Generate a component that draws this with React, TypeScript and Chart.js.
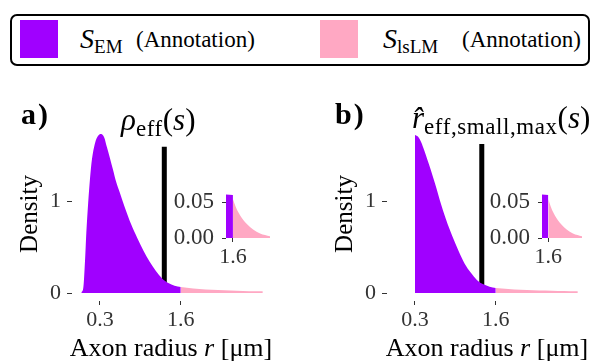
import React, { useEffect, useRef } from "react";
import { Chart, registerables } from "chart.js";

Chart.register(...registerables);

const FONT = "'Liberation Serif', 'DejaVu Serif', serif";
const PURPLE = "#A000FF";
const PINK = "#FFA8C3";
const TICK_COLOR = "#333333";

// ---------- Panel a: S_EM (annotation) density over axon radius r [µm]
const aEmR = [0, 0.03, 0.06, 0.08, 0.11, 0.14, 0.17, 0.22, 0.27, 0.32, 0.37, 0.41, 0.46, 0.51, 0.56, 0.62, 0.7, 0.8, 0.9, 1.0, 1.1, 1.2, 1.3, 1.4, 1.5, 1.6];
const aEmD = [0.01, 0.05, 0.36, 0.65, 0.98, 1.25, 1.45, 1.63, 1.71, 1.73, 1.69, 1.59, 1.47, 1.34, 1.21, 1.09, 0.93, 0.75, 0.6, 0.46, 0.34, 0.24, 0.16, 0.11, 0.08, 0.065];
const aLmR = [1.6, 1.8, 2.0, 2.2, 2.4, 2.6, 2.8, 2.92];
const aLmD = [0.065, 0.05, 0.04, 0.033, 0.028, 0.024, 0.021, 0.02];
const aLineR = [1.335, 1.335];
const aLineD = [0, 1.59];

// ---------- Panel b
const bEmR = [0.3, 0.35, 0.4, 0.45, 0.5, 0.55, 0.6, 0.65, 0.7, 0.8, 0.9, 1.0, 1.1, 1.2, 1.3, 1.4, 1.5, 1.6];
const bEmD = [1.72, 1.7, 1.64, 1.55, 1.45, 1.35, 1.24, 1.13, 1.01, 0.8, 0.62, 0.46, 0.32, 0.22, 0.14, 0.095, 0.07, 0.055];
const bLmR = [1.6, 1.8, 2.0, 2.2, 2.4, 2.6, 2.8, 2.92];
const bLmD = [0.055, 0.045, 0.037, 0.031, 0.027, 0.023, 0.021, 0.019];
const bLineR = [1.375, 1.375];
const bLineD = [0, 1.62];

// ---------- Insets (zoom on the tail)
const insetEmR = [1.5, 1.6];
const insetEmD = [0.0607, 0.06];
const insetLmR = [1.6, 1.647, 1.704, 1.8, 1.89, 1.99, 2.133];
const insetLmD = [0.054, 0.0417, 0.0313, 0.0194, 0.0119, 0.0063, 0.0024];

// ---------- Ticks
const MAIN_X_TICKS = [0.3, 1.6];
const MAIN_X_LABELS = ["0.3", "1.6"];
const MAIN_Y_TICKS = [0, 1];
const MAIN_Y_LABELS = ["0", "1"];
const INSET_X_TICKS = [1.6];
const INSET_X_LABELS = ["1.6"];
const INSET_Y_TICKS = [0, 0.05];
const INSET_Y_LABELS = ["0.00", "0.05"];

function pts(xs: number[], ys: number[]) {
  return xs.map((x, i) => ({ x, y: ys[i] }));
}

function area(xs: number[], ys: number[], color: string) {
  return {
    data: pts(xs, ys),
    backgroundColor: color,
    borderColor: color,
    borderWidth: 0,
    pointRadius: 0,
    fill: "origin",
    cubicInterpolationMode: "monotone",
  };
}

function tickAxis(ticks: number[], labels: string[], extra: any) {
  return {
    type: "linear",
    afterBuildTicks: (s: any) => {
      s.ticks = ticks.map((v) => ({ value: v }));
    },
    border: { display: false },
    grid: { drawOnChartArea: false, drawTicks: true, tickLength: extra.tickLength, tickColor: TICK_COLOR, color: TICK_COLOR },
    ticks: {
      autoSkip: false,
      maxRotation: 0,
      padding: extra.padding,
      color: TICK_COLOR,
      font: { family: FONT, size: extra.size || 22 },
      callback: (_v: any, i: number) => labels[i],
    },
    ...extra.rest,
  };
}

function mainConfig(emR: number[], emD: number[], lmR: number[], lmD: number[], lR: number[], lD: number[], right: number) {
  return {
    type: "line",
    data: {
      datasets: [
        area(emR, emD, PURPLE),
        area(lmR, lmD, PINK),
        { data: pts(lR, lD), borderColor: "#000", borderWidth: 5, pointRadius: 0, fill: false, borderCapStyle: "butt" },
      ],
    },
    options: {
      animation: false,
      responsive: false,
      events: [],
      layout: { autoPadding: false, padding: { left: 0, top: 37, right, bottom: 32 } },
      plugins: { legend: { display: false }, tooltip: { enabled: false } },
      scales: {
        x: tickAxis(MAIN_X_TICKS, MAIN_X_LABELS, {
          tickLength: 4,
          padding: 2,
          rest: { min: -0.15, max: 3.1, afterFit: (s: any) => { s.height = 30; } },
        }),
        y: tickAxis(MAIN_Y_TICKS, MAIN_Y_LABELS, {
          tickLength: 5,
          padding: 6,
          rest: {
            min: -0.086,
            max: 1.806,
            afterFit: (s: any) => { s.width = 72; },
            title: { display: true, text: "Density", color: "#000", font: { family: FONT, size: 25 }, padding: { top: 15, bottom: 0 } },
          },
        }),
      },
    },
  };
}

function insetConfig() {
  return {
    type: "line",
    data: { datasets: [area(insetEmR, insetEmD, PURPLE), area(insetLmR, insetLmD, PINK)] },
    options: {
      animation: false,
      responsive: false,
      events: [],
      layout: { autoPadding: false, padding: { left: 0, top: 14, right: 10, bottom: 4 } },
      plugins: { legend: { display: false }, tooltip: { enabled: false } },
      scales: {
        x: tickAxis(INSET_X_TICKS, INSET_X_LABELS, {
          tickLength: 4,
          padding: 2,
          rest: { min: 1.5, max: 2.133, afterFit: (s: any) => { s.height = 28; } },
        }),
        y: tickAxis(INSET_Y_TICKS, INSET_Y_LABELS, {
          tickLength: 4,
          padding: 8,
          size: 23,
          rest: { min: 0, max: 0.0643, afterFit: (s: any) => { s.width = 76; } },
        }),
      },
    },
  };
}

function ChartBox({ left, top, width, height, make }: any) {
  const ref = useRef<HTMLCanvasElement | null>(null);
  useEffect(() => {
    const chart = new Chart(ref.current as HTMLCanvasElement, make() as any);
    return () => chart.destroy();
  }, []);
  return (
    <div style={{ position: "absolute", left, top, width, height }}>
      <canvas ref={ref} width={width} height={height} style={{ display: "block", width, height }} />
    </div>
  );
}

function T({ left, baseline, size, children, bold, width, align, spacing }: any) {
  const top = baseline - 0.8375 * size;
  return (
    <div
      style={{
        position: "absolute",
        left,
        top,
        width,
        textAlign: align || "left",
        fontSize: size,
        lineHeight: `${size}px`,
        fontFamily: FONT,
        fontWeight: bold ? 700 : 400,
        letterSpacing: spacing || 0,
        whiteSpace: "nowrap",
        color: "#000",
      }}
    >
      {children}
    </div>
  );
}

const sub = { fontSize: "0.68em", position: "relative" as const, top: "0.28em" };
const subBig = { fontSize: "0.74em", position: "relative" as const, top: "0.26em", letterSpacing: "0.6px" };

function XTitle({ center }: any) {
  return (
    <T left={center - 150} width={300} align="center" baseline={357} size={26}>
      Axon radius <i>r</i> [μm]
    </T>
  );
}

export default function App() {
  return (
    <div style={{ position: "fixed", left: 0, top: 0, width: 592, height: 363, overflow: "hidden", background: "#fff" }}>
      {/* legend */}
      <div style={{ position: "absolute", left: 10, top: 14, width: 576, height: 48, border: "2px solid #000", borderRadius: 7 }} />
      <div style={{ position: "absolute", left: 20, top: 20, width: 38, height: 38, background: PURPLE }} />
      <div style={{ position: "absolute", left: 320, top: 20, width: 38, height: 38, background: PINK }} />
      <T left={80} baseline={48} size={28}>
        <i>S</i>
        <span style={sub}>EM</span>
      </T>
      <T left={136} baseline={47} size={23}>(Annotation)</T>
      <T left={383} baseline={48} size={28}>
        <i>S</i>
        <span style={sub}>lsLM</span>
      </T>
      <T left={462} baseline={47} size={23}>(Annotation)</T>

      {/* charts */}
      <ChartBox left={0} top={90} width={296} height={273} make={() => mainConfig(aEmR, aEmD, aLmR, aLmD, aLineR, aLineD, 22)} />
      <ChartBox left={315} top={90} width={277} height={273} make={() => mainConfig(bEmR, bEmD, bLmR, bLmD, bLineR, bLineD, 3)} />
      <ChartBox left={150} top={170} width={130} height={100} make={insetConfig} />
      <ChartBox left={466} top={170} width={126} height={100} make={insetConfig} />

      {/* panel labels */}
      <T left={21} baseline={124} size={30} bold spacing={2}>a)</T>
      <T left={121} baseline={130} size={31}>
        <i>ρ</i>
        <span style={subBig}>eff</span>(<i>s</i>)
      </T>
      <T left={335} baseline={124} size={30} bold spacing={2}>b)</T>
      <T left={412} baseline={128} size={31}>
        <i>r&#770;</i>
        <span style={subBig}>eff,small,max</span>(<i>s</i>)
      </T>
      <XTitle center={171} />
      <XTitle center={487} />
    </div>
  );
}
